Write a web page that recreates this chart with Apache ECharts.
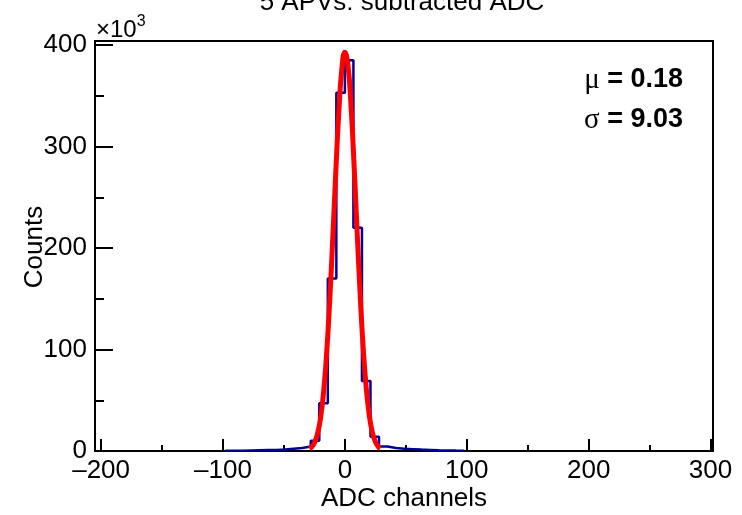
<!DOCTYPE html>
<html><head><meta charset="utf-8">
<script src="https://cdn.jsdelivr.net/npm/echarts@6/dist/echarts.min.js"></script>
<style>html,body{margin:0;padding:0;background:#fff}#c{width:742px;height:515px}</style>
</head><body><div id="c"></div>
<script>
// Histogram bins (low edges, width 7) and counts in units of 10^3
const binLowEdges = [-98,-91,-84,-77,-70,-63,-56,-49,-42,-35,-28,-21,-14,-7,0,7,14,21,28,35,42,49,56,63,70,77,84,91];
const binCounts   = [0.2,0.3,0.5,0.7,0.9,1.1,1.4,2.2,3.0,4.5,10,47,170,353,385,220,69,14,4.5,3.0,2.2,1.8,1.4,1.1,0.8,0.6,0.4,0.3];
const lastEdge = 98;
// Gaussian fit curve points (units of 10^3)
const fitX = [-29,-27.5,-25,-22.5,-20,-17.5,-15,-12.5,-10,-7.5,-5,-2.5,0,2.5,5,7.5,10,12.5,15,17.5,20,22.5,25,27.5,29];
const fitY = [2.1,3.6,8.0,16.8,32.3,57.8,95.7,146.6,208.2,273.6,333.4,376.1,393.0,380.2,340.8,282.9,217.6,154.9,102.2,62.4,35.3,18.5,9.0,4.0,2.4];
const xMajorTicks = [-200,-100,0,100,200,300];
const xMinorTicks = [-150,-50,50,150,250];
const yMajorTicks = [0,100,200,300,400];
const yMinorTicks = [50,150,250,350];
const titleText = '5 APVs: subtracted ADC';
const xTitle = 'ADC channels';
const yTitle = 'Counts';
const muText = '0.18';
const sigmaText = '9.03';

const FONT = 'Liberation Sans';
const X_MIN = -205, X_MAX = 302, Y_MIN = 0, Y_MAX = 404;

const histData = binLowEdges.map((e, i) => [e, binCounts[i]]);
histData.push([lastEdge, binCounts[binCounts.length - 1]]);
const fitData = fitX.map((x, i) => [x, fitY[i]]);

const fmtX = v => (v < 0 ? '\u2013' + Math.abs(v) : String(v));

const chart = echarts.init(document.getElementById('c'), null, {renderer: 'canvas'});
chart.setOption({
  animation: false,
  backgroundColor: '#fff',
  grid: {left: 95, right: 29, top: 41, bottom: 64, show: true, borderColor: '#000', borderWidth: 2, backgroundColor: 'transparent'},
  xAxis: [
    {type: 'value', min: X_MIN, max: X_MAX, position: 'bottom',
     axisLine: {show: false, onZero: false}, splitLine: {show: false},
     axisTick: {show: true, inside: true, length: 12, customValues: xMajorTicks, lineStyle: {color: '#000', width: 2}},
     axisLabel: {show: true, customValues: xMajorTicks, formatter: fmtX, margin: 7, color: '#000', fontFamily: FONT, fontSize: 26}},
    {type: 'value', min: X_MIN, max: X_MAX, position: 'bottom',
     axisLine: {show: false, onZero: false}, splitLine: {show: false},
     axisTick: {show: true, inside: true, length: 6, customValues: xMinorTicks, lineStyle: {color: '#000', width: 2}},
     axisLabel: {show: false}}
  ],
  yAxis: [
    {type: 'value', min: Y_MIN, max: Y_MAX, position: 'left',
     axisLine: {show: false, onZero: false}, splitLine: {show: false},
     axisTick: {show: true, inside: true, length: 18, customValues: yMajorTicks, lineStyle: {color: '#000', width: 2}},
     axisLabel: {show: true, customValues: yMajorTicks, margin: 8, color: '#000', fontFamily: FONT, fontSize: 26}},
    {type: 'value', min: Y_MIN, max: Y_MAX, position: 'left',
     axisLine: {show: false, onZero: false}, splitLine: {show: false},
     axisTick: {show: true, inside: true, length: 9, customValues: yMinorTicks, lineStyle: {color: '#000', width: 2}},
     axisLabel: {show: false}}
  ],
  series: [
    {type: 'line', xAxisIndex: 0, yAxisIndex: 0, data: histData, step: 'end', symbol: 'none',
     lineStyle: {color: '#000099', width: 2.5}, z: 3},
    {type: 'line', xAxisIndex: 0, yAxisIndex: 0, data: fitData, smooth: true, symbol: 'none',
     lineStyle: {color: '#ff0000', width: 5}, z: 4}
  ],
  graphic: [
    {type: 'text', style: {text: titleText, fill: '#000', font: '26px "' + FONT + '"', textAlign: 'center', textVerticalAlign: 'middle'}, position: [402, 3]},
    {type: 'text', style: {text: xTitle, fill: '#000', font: '26px "' + FONT + '"', textAlign: 'center', textVerticalAlign: 'middle'}, position: [404, 499]},
    {type: 'text', rotation: Math.PI / 2, style: {text: yTitle, fill: '#000', font: '26px "' + FONT + '"', textAlign: 'center', textVerticalAlign: 'middle'}, position: [35, 247]},
    {type: 'text', style: {text: '{a|\u00d710}{b|3}', textVerticalAlign: 'bottom',
      rich: {a: {fontFamily: FONT, fontSize: 24, fill: '#000', verticalAlign: 'bottom'}, b: {fontFamily: FONT, fontSize: 16, fill: '#000', verticalAlign: 'top', padding: [0,0,12,0]}}}, position: [96, 42]},
    {type: 'text', style: {text: '{s|\u03bc}{t| = ' + muText + '}', textAlign: 'right', textVerticalAlign: 'middle',
      rich: {s: {fontFamily: 'Liberation Serif', fontSize: 29, fill: '#000'}, t: {fontFamily: FONT, fontSize: 27, fontWeight: 'bold', fill: '#000'}}}, position: [683, 80]},
    {type: 'text', style: {text: '{s|\u03c3}{t| = ' + sigmaText + '}', textAlign: 'right', textVerticalAlign: 'middle',
      rich: {s: {fontFamily: 'Liberation Serif', fontSize: 29, fill: '#000'}, t: {fontFamily: FONT, fontSize: 27, fontWeight: 'bold', fill: '#000'}}}, position: [683, 120]}
  ]
});
</script></body></html>
